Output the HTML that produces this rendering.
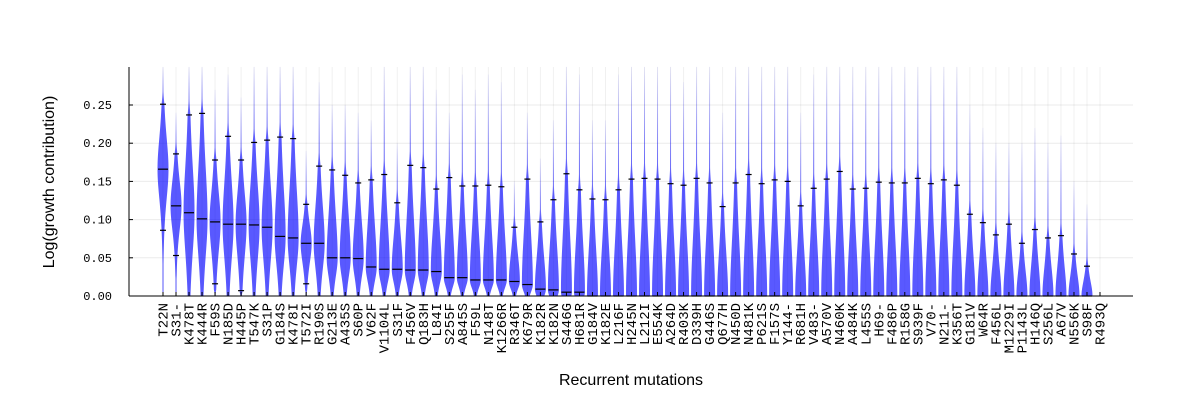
<!DOCTYPE html>
<html><head><meta charset="utf-8"><style>
body{margin:0;background:#fff;}
svg text{font-family:"Liberation Mono",monospace;}
</style></head><body>
<svg id="chart" width="1200" height="400" xmlns="http://www.w3.org/2000/svg">
<g id="grid"></g>
<g id="violins"></g>
<g id="axes"></g>
<text x="0" y="0" transform="translate(54,182) rotate(-90)" text-anchor="middle" font-size="16" style="font-family:'Liberation Sans',sans-serif">Log(growth contribution)</text>
<text x="631" y="385" text-anchor="middle" font-size="16" style="font-family:'Liberation Sans',sans-serif">Recurrent mutations</text>
</svg>
<script>
const categories=["T22N","S31-","K478T","K444R","F59S","N185D","H445P","T547K","S31P","G184S","K478I","T572I","R190S","G213E","A435S","S60P","V62F","V1104L","S31F","F456V","Q183H","L84I","S255F","A845S","F59L","N148T","K1266R","R346T","K679R","K182R","K182N","S446G","H681R","G184V","K182E","L216F","H245N","L212I","E554K","A264D","R403K","D339H","G446S","Q677H","N450D","N481K","P621S","F157S","Y144-","R681H","V483-","A570V","N460K","A484K","L455S","H69-","F486P","R158G","S939F","V70-","N211-","K356T","G181V","W64R","F456L","M1229I","P1143L","H146Q","S256L","A67V","N556K","S98F","R493Q"];
const medians=[.166,.118,.109,.101,.097,.094,.094,.093,.090,.078,.076,.069,.069,.050,.050,.049,.038,.035,.035,.034,.034,.032,.024,.024,.021,.021,.021,.019,.015,.009,.008,.005,.005,0,0,0,0,0,0,0,0,0,0,0,0,0,0,0,0,0,0,0,0,0,0,0,0,0,0,0,0,0,0,0,0,0,0,0,0,0,0,0,0];
const uppers=[.251,.186,.237,.239,.178,.209,.178,.201,.204,.208,.206,.120,.170,.165,.158,.148,.152,.159,.122,.171,.168,.140,.155,.144,.144,.145,.143,.090,.153,.097,.126,.160,.139,.127,.126,.139,.153,.154,.153,.147,.145,.154,.148,.117,.148,.159,.147,.152,.150,.118,.141,.153,.163,.140,.141,.149,.148,.148,.154,.147,.152,.145,.107,.096,.080,.094,.069,.087,.076,.079,.055,.039,0];
const lowers=[.086,.053,0,0,.016,0,.007,0,0,0,0,.016,0,0,0,0,0,0,0,0,0,0,0,0,0,0,0,0,0,0,0,0,0,0,0,0,0,0,0,0,0,0,0,0,0,0,0,0,0,0,0,0,0,0,0,0,0,0,0,0,0,0,0,0,0,0,0,0,0,0,0,0,0];
const maxima=[.300,.240,.300,.300,.270,.290,.260,.300,.300,.300,.300,.190,.280,.250,.250,.240,.230,.300,.200,.300,.300,.270,.240,.290,.270,.290,.280,.150,.240,.180,.230,.300,.290,.230,.230,.290,.300,.300,.300,.300,.280,.300,.300,.240,.300,.300,.300,.300,.300,.240,.290,.300,.300,.300,.300,.300,.300,.300,.300,.300,.300,.300,.250,.220,.200,.200,.200,.220,.200,.210,.150,.120,.010];
const yTicks=[0,0.05,0.10,0.15,0.20,0.25];
const yTickLabels=["0.00","0.05","0.10","0.15","0.20","0.25"];

const NS="http://www.w3.org/2000/svg";
const X0=129,X1=1133,Y0=296,YT=67;
const xPos=i=>163+i*(1100-163)/(categories.length-1);
const yPos=v=>Y0-v/0.05*38.2;
function mk(tag,attrs,parent){const e=document.createElementNS(NS,tag);for(const k in attrs)e.setAttribute(k,attrs[k]);parent.appendChild(e);return e;}
const grid=document.getElementById('grid'),vg=document.getElementById('violins'),ax=document.getElementById('axes');
const defs=mk('defs',{},document.getElementById('chart'));
yTicks.forEach((t,i)=>{
  const l=mk('line',{x1:X0,x2:X1,y1:yPos(t),y2:yPos(t),stroke:'#000','stroke-opacity':0.08,'stroke-width':1},grid);
  
  
  const tk=mk('line',{x1:X0,x2:X0+4,y1:yPos(t),y2:yPos(t),stroke:'#000','stroke-width':1},ax);
  
  
  const tx=mk('text',{x:112,y:yPos(t)+4,'text-anchor':'end','font-size':12},ax);
  tx.textContent=yTickLabels[i];
  
  
});
categories.forEach((c,i)=>{
  const x=xPos(i);
  const gl=mk('line',{x1:x,x2:x,y1:YT,y2:Y0,stroke:'#000','stroke-opacity':0.06,'stroke-width':1},grid);
  
  
  const m=medians[i],u=uppers[i],lo=lowers[i],mx=maxima[i];
  if(u>0){
    const su=Math.max(u-m,0.02)/1.7, sl=Math.max(m-lo,0.02)/1.7;
    const W=5.5;
    const pts=[],N=100;
    for(let k=0;k<=N;k++){
      const v=mx*k/N;
      const d=v-m, s=d>=0?su:sl;
      let w=W*Math.pow(1+(d/s)*(d/s)/3,-2);
      if(v>u)w=Math.max(w*Math.exp(-(v-u)/0.025),0.5);
      if(d<0&&lo>0&&v<lo*0.5)w=Math.max(w*v/(lo*0.5),0.5);
      pts.push([w,yPos(v)]);
    }
    let dstr='M'+pts.map(p=>(x-p[0]).toFixed(2)+','+p[1].toFixed(2)).join(' L');
    dstr+=' L'+pts.slice().reverse().map(p=>(x+p[0]).toFixed(2)+','+p[1].toFixed(2)).join(' L')+' Z';
    const gid='g'+i;
    const lg=mk('linearGradient',{id:gid,x1:0,y1:1,x2:0,y2:0,gradientUnits:'userSpaceOnUse'},defs);
    lg.setAttribute('x1',0);lg.setAttribute('x2',0);lg.setAttribute('y1',Y0);lg.setAttribute('y2',yPos(mx));
    const fu=Math.min(1,u/mx);
    mk('stop',{offset:0,'stop-color':'#0000ff','stop-opacity':0.65},lg);
    mk('stop',{offset:fu,'stop-color':'#0000ff','stop-opacity':0.65},lg);
    mk('stop',{offset:1,'stop-color':'#0000ff','stop-opacity':0.05},lg);
    const vp=mk('path',{d:dstr,fill:`url(#${gid})`},vg);
    
    
  }
  [[m,5],[u,3],[lo,3]].forEach((q,j)=>{
    if(j>0&&q[0]<=0)return;
    if(j==0&&u<=0)return;
    const l=mk('line',{x1:x-q[1],x2:x+q[1],y1:yPos(q[0]),y2:yPos(q[0]),stroke:'#000','stroke-width':1.2},vg);
    
    
  });
  const tk=mk('line',{x1:x,x2:x,y1:Y0-4,y2:Y0,stroke:'#000','stroke-width':1},ax);
  
  
  const tx=mk('text',{x:0,y:0,transform:`translate(${x+4.5},303) rotate(-90)`,'text-anchor':'end','font-size':14},ax);
  tx.textContent=c;
  
  
});
const ya=mk('line',{x1:X0,x2:X0,y1:YT,y2:Y0,stroke:'#000','stroke-width':1},ax);


const xa=mk('line',{x1:X0,x2:X1,y1:Y0,y2:Y0,stroke:'#000','stroke-width':1},ax);


</script>
</body></html>
